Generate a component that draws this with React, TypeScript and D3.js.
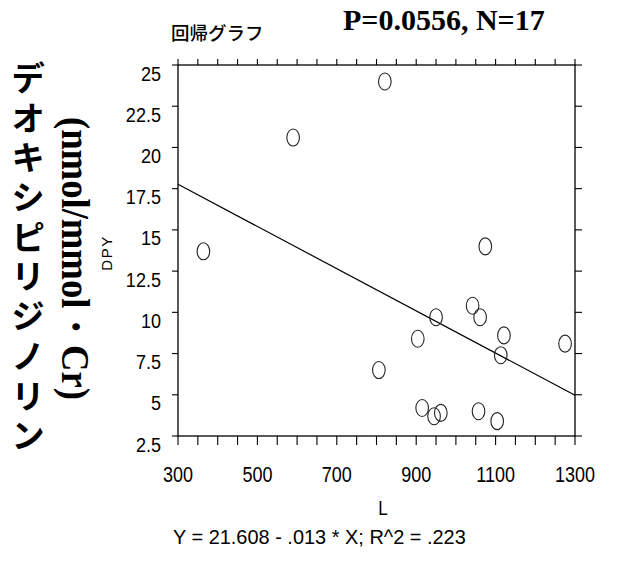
import React from 'react';
import * as d3 from 'd3';

// ---- data ----
const xValues = [821, 590, 364, 1074, 950, 1042, 1061, 1121, 904, 1113, 1275, 806, 915, 945, 962, 1057, 1104];
const yValues = [24.0, 20.6, 13.7, 14.0, 9.7, 10.4, 9.7, 8.6, 8.4, 7.4, 8.1, 6.5, 4.2, 3.7, 3.9, 4.0, 3.4];
const xTickLabels = [300, 500, 700, 900, 1100, 1300];
const yTickLabels = [2.5, 5, 7.5, 10, 12.5, 15, 17.5, 20, 22.5, 25];
const regIntercept = 21.608;
const regSlope = -0.0128;
const titleText = '回帰グラフ';
const statText = 'P=0.0556, N=17';
const yTitle = 'DPY';
const xTitle = 'L';
const equationText = 'Y = 21.608 - .013 * X; R^2 = .223';
const jpLabel = 'デオキシピリジノリン';
const unitLabel = '(nmol/mmol・Cr)';

const W = 617, H = 562;
const left = 178, right = 575, top = 65, bottom = 436;
const sans = "'Liberation Sans', Arial, sans-serif";

function NText(props: { x: number; y: number; size: number; sx: number; anchor?: string; children: any }) {
  const { x, y, size, sx, anchor, children } = props;
  return (
    <g transform={`translate(${x},${y}) scale(${sx},1)`}>
      <text x={0} y={0} textAnchor={anchor || 'start'} fontFamily={sans} fontSize={size}>{children}</text>
    </g>
  );
}

export default function App() {
  const x = d3.scaleLinear().domain([300, 1300]).range([left, right]);
  const y = d3.scaleLinear().domain([2.5, 25]).range([bottom, top]);
  const minorX = d3.range(300, 1301, 50);
  const regLine = d3.line<number>().x(d => x(d)).y(d => y(regIntercept + regSlope * d));
  const pts = xValues.map((v, i) => [v, yValues[i]]);
  return (
    <svg width={W} height={H} style={{ position: 'absolute', left: 0, top: 0, background: '#fff' }}>
      <rect x={0} y={0} width={W} height={H} fill="#fff" />
      {/* titles */}
      <text x={171} y={40} fontFamily="'Noto Sans CJK JP', sans-serif" fontWeight={500} fontSize={18.5}>{titleText}</text>
      <text x={343} y={30} fontFamily="'Liberation Serif', serif" fontWeight="bold" fontSize={30}>{statText}</text>
      {/* vertical Japanese label */}
      <text x={28} y={61} style={{ writingMode: 'vertical-rl' } as any} letterSpacing={5.7}
        fontFamily="'Noto Sans CJK JP', sans-serif" fontWeight="bold" fontSize={34}>{jpLabel}</text>
      <g transform="translate(62,258.5) rotate(90)">
        <text x={0} y={0} textAnchor="middle" fontFamily="'Liberation Serif', serif" fontWeight="bold" fontSize={40}
          textLength={283} lengthAdjust="spacingAndGlyphs">{unitLabel}</text>
      </g>
      <g transform="translate(112,253) rotate(-90)">
        <text x={0} y={0} textAnchor="middle" fontFamily={sans} fontSize={15} letterSpacing={1.5}>{yTitle}</text>
      </g>
      {/* frame */}
      <rect x={left} y={top} width={right - left} height={bottom - top} fill="none" stroke="#000" strokeWidth={1.3} />
      {/* x ticks top and bottom */}
      {minorX.map(v => (
        <g key={v}>
          <line x1={x(v)} x2={x(v)} y1={top} y2={top - 6} stroke="#000" strokeWidth={1.1} />
          <line x1={x(v)} x2={x(v)} y1={bottom} y2={bottom + 9} stroke="#000" strokeWidth={1.1} />
        </g>
      ))}
      {/* y ticks left and right */}
      {yTickLabels.map(v => (
        <g key={v}>
          <line x1={left} x2={left - 6} y1={y(v)} y2={y(v)} stroke="#000" strokeWidth={1.1} />
          <line x1={right} x2={right + 7} y1={y(v)} y2={y(v)} stroke="#000" strokeWidth={1.1} />
          <NText x={161} y={y(v) + 15.5} size={21} sx={0.86} anchor="end">{v}</NText>
        </g>
      ))}
      {xTickLabels.map(v => (
        <NText key={v} x={x(v)} y={482} size={22.5} sx={0.8} anchor="middle">{v}</NText>
      ))}
      <NText x={383} y={515} size={20} sx={0.85} anchor="middle">{xTitle}</NText>
      <NText x={173} y={544} size={21} sx={0.95}>{equationText}</NText>
      {/* regression line */}
      <path d={regLine([300, 1300]) || ''} fill="none" stroke="#000" strokeWidth={1.2} />
      {/* points */}
      {pts.map((p, i) => (
        <ellipse key={i} cx={x(p[0])} cy={y(p[1])} rx={6.3} ry={8.5} fill="none" stroke="#222" strokeWidth={1.1} />
      ))}
    </svg>
  );
}
